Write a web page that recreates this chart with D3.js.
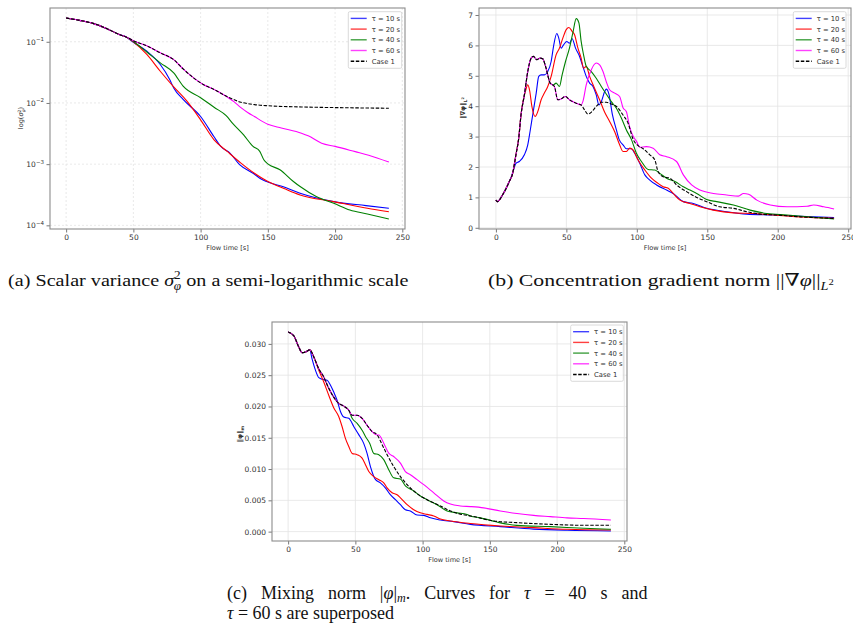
<!DOCTYPE html>
<html>
<head>
<meta charset="utf-8">
<script src="https://cdn.jsdelivr.net/npm/d3@7"></script>
<style>
body { margin: 0; background: #fff; }
svg { display: block; }
.tick text { font-family: "DejaVu Sans", sans-serif; fill: #333; }
.lab { font-family: "DejaVu Sans", sans-serif; fill: #333; }
</style>
</head>
<body>
<svg id="fig" width="853" height="626"></svg>
<script>
// shared labels / ticks
var xTicks = [0, 50, 100, 150, 200, 250];
var legendLabels = ["τ = 10 s", "τ = 20 s", "τ = 40 s", "τ = 60 s", "Case 1"];
var colors = ["#0000ff", "#ff0000", "#008000", "#ff00ff", "#000000"];
var serif = "'Liberation Serif', 'DejaVu Serif', serif";

// take the shared early part of a curve (the curves coincide at the start)
function upTo(s, t) { return s.filter(function(d) { return d[0] <= t; }); }

// (a) scalar variance, [time, value]
var aCase1 = [[0,0.244],[10,0.224],[20,0.200],[30,0.165],[40,0.130],[45,0.119],[50,0.104],[60,0.086],[70,0.066],[80,0.051],[87,0.036],[95,0.0255],[102,0.020],[110,0.0166],[120,0.0126],[130,0.0103],[140,0.0094],[150,0.0090],[175,0.0086],[200,0.0084],[240,0.0082]];
var aTau10 = upTo(aCase1, 45).concat([[50,0.098],[60,0.070],[70,0.0425],[77,0.0242],[80,0.0176],[87,0.0114],[100,0.0060],[110,0.0028],[115,0.00195],[122,0.0015],[129,0.00098],[139,0.00071],[144,0.00059],[149,0.00052],[161,0.00043],[174,0.000335],[199,0.000244],[223,0.00021],[240,0.00019]]);
var aTau20 = upTo(aCase1, 45).concat([[50,0.100],[60,0.062],[70,0.033],[80,0.0183],[90,0.0106],[100,0.0053],[110,0.0025],[120,0.0016],[130,0.00104],[140,0.00071],[150,0.00052],[162,0.0004],[174,0.000314],[199,0.000244],[224,0.00019],[240,0.000167]]);
var aTau40 = upTo(aCase1, 45).concat([[50,0.101],[60,0.068],[70,0.0453],[80,0.031],[87,0.0188],[100,0.0122],[110,0.0085],[119,0.0062],[124,0.0046],[132,0.0030],[139,0.00195],[144,0.00162],[147,0.00118],[150,0.00101],[159,0.00081],[169,0.00052],[174,0.00043],[186,0.000295],[199,0.000229],[211,0.000178],[224,0.000153],[240,0.000127]]);
var aTau60 = upTo(aCase1, 110).concat([[115,0.0146],[120,0.0124],[125,0.0104],[130,0.0084],[135,0.0070],[140,0.0060],[150,0.0045],[160,0.0039],[175,0.0032],[180,0.0029],[190,0.0022],[200,0.00195],[215,0.0016],[225,0.0014],[240,0.00108]]);

// (b) concentration gradient norm
var bCase1 = [[0,0.91],[1,0.86],[4.7,1.08],[9.5,1.52],[11.9,1.79],[14.2,2.4],[16.2,2.95],[17.8,3.71],[20.2,4.37],[22.6,5.14],[25,5.58],[26.6,5.64],[29,5.53],[31.3,5.58],[33.2,5.56],[35.6,5.25],[38.5,4.76],[41.5,4.65],[43.9,4.21],[46.3,4.24],[49.4,4.32],[52.2,4.21],[57,4.1],[60.5,4.04],[62.9,3.88],[65.3,3.74],[67.7,3.8],[71.2,3.99],[74.8,4.13],[78.3,4.13],[81.9,4.07],[85.5,3.99],[90.2,3.71],[93.8,3.44],[97.3,2.92],[100.9,2.7],[104.5,2.6],[109.2,2.4],[112.8,2.23],[115.1,1.85],[118.7,1.68],[123.5,1.63],[128.2,1.41],[135.3,1.19],[142.5,1.0],[149.6,0.86],[159,0.69],[168.6,0.64],[178,0.53],[187.6,0.45],[199.4,0.42],[216,0.36],[240,0.31]];
var bTau10 = upTo(bCase1, 9.5).concat([[10.7,1.65],[12.5,1.9],[14.2,2.12],[16.6,2.18],[20.2,2.40],[22.6,2.73],[24.2,3.16],[26.1,3.71],[28.6,4.43],[30.4,4.98],[32.1,5.03],[34.4,5.03],[36.8,5.14],[39.2,5.47],[40.9,5.97],[43.2,6.39],[44.6,6.24],[46.3,5.91],[48,6.02],[50.3,6.13],[52.2,6.07],[54.1,6.22],[56.5,5.91],[58.9,5.69],[61.7,5.31],[64.1,4.98],[66.5,4.76],[68.9,4.65],[71.2,4.37],[73.1,4.04],[74.8,4.15],[77.2,4.48],[78.3,4.56],[80.2,4.40],[82.6,3.74],[85.5,3.22],[87.5,2.9],[90.2,2.73],[92.6,2.6],[96.2,2.6],[98.5,2.45],[102.1,2.12],[105.7,1.74],[109.2,1.57],[114,1.41],[121.1,1.24],[125.8,1.13],[133,0.86],[140.1,0.80],[149.6,0.64],[163.8,0.53],[178,0.45],[197,0.42],[216,0.38],[240,0.34]]);
var bTau20 = upTo(bCase1, 17.8).concat([[19,4.1],[21,4.5],[22.6,4.70],[24,4.5],[25.5,4.0],[27.8,3.66],[29.7,3.82],[32.1,4.21],[34.4,4.43],[36.8,4.65],[39.2,4.98],[42.7,5.69],[45.1,5.91],[47.5,6.24],[49.9,6.52],[51.8,6.59],[54.1,6.46],[55.8,6.35],[58.2,5.91],[60.5,5.58],[62.2,5.25],[64.1,5.31],[66.5,4.98],[70,4.59],[73.6,4.21],[77.2,3.8],[80.7,3.5],[84.3,3.16],[87.8,2.73],[90.2,2.51],[92.6,2.51],[95,2.62],[97.3,2.56],[100.9,2.23],[105.7,1.90],[110.4,1.63],[115.1,1.46],[118.7,1.35],[122.3,1.30],[125.8,1.13],[130.6,0.91],[137.7,0.80],[144.8,0.69],[154.3,0.58],[168.6,0.49],[182.8,0.47],[197,0.42],[216,0.36],[240,0.31]]);
var bTau40 = upTo(bCase1, 38.5).concat([[40.8,4.70],[42.7,4.76],[45.1,4.65],[47,5.03],[49.4,5.47],[52.2,5.91],[54.6,6.41],[57,6.88],[58.9,6.74],[60.5,6.13],[62.2,5.69],[64.1,5.31],[67.7,5.14],[71.2,4.92],[74.8,4.65],[78.3,4.40],[81.9,4.15],[85.5,3.93],[89.1,3.60],[92.6,3.22],[96.2,2.90],[99.7,2.45],[103.3,2.18],[108,1.92],[112.8,1.90],[116.3,1.79],[121.1,1.63],[127,1.52],[133,1.35],[137.7,1.24],[142.5,1.13],[149.6,0.93],[156.7,0.86],[168.6,0.75],[180.4,0.58],[192.3,0.47],[206.6,0.42],[240,0.29]]);
var bTau60 = upTo(bCase1, 60.5).concat([[61.7,4.15],[64.1,4.7],[67.7,5.2],[71.2,5.42],[73.6,5.36],[76,5.14],[78.3,4.81],[80.7,4.54],[84.3,4.43],[87.8,4.32],[90.2,3.95],[92.6,3.82],[95,3.3],[97.5,3.0],[99.7,2.85],[102.1,2.65],[106.8,2.67],[111.6,2.62],[116.3,2.4],[121.1,2.34],[128.2,2.18],[133,1.74],[138.9,1.41],[144.8,1.24],[154.3,1.13],[163.8,1.08],[172.1,1.04],[175.7,1.13],[179.3,1.10],[185.2,0.91],[194.7,0.75],[206.6,0.69],[220.8,0.71],[225.5,0.75],[232.7,0.69],[240,0.62]]);

// (c) mixing norm
var cCase1 = [[0,0.0319],[4.2,0.0313],[7.9,0.0295],[10.4,0.0286],[12.9,0.0287],[16.1,0.02905],[19.1,0.0279],[22.8,0.0260],[26.5,0.0247],[30.2,0.0229],[33.9,0.0215],[37.6,0.0205],[41.4,0.02005],[45.1,0.0194],[47.6,0.0186],[51.3,0.0186],[55,0.0181],[58.7,0.0170],[62.4,0.0160],[66.2,0.01545],[69.9,0.0139],[73.6,0.0123],[78.5,0.0104],[83.5,0.0088],[88.5,0.0075],[93.4,0.0065],[98.3,0.0057],[103.3,0.0051],[108.3,0.0046],[113.2,0.0041],[120.7,0.0033],[128.1,0.0028],[135.8,0.0025],[152.9,0.0017],[170,0.00143],[195,0.00116],[220,0.00101],[240,0.00101]];
var cTau10 = upTo(cCase1, 16.1).concat([[17.8,0.0276],[20.3,0.0258],[22.8,0.0246],[26,0.0243],[29,0.0242],[31.5,0.0234],[33.9,0.0223],[36.4,0.0210],[38.9,0.0192],[41.4,0.0183],[45.1,0.0181],[48.8,0.0168],[52.5,0.0155],[56.2,0.0141],[58.7,0.0125],[61.2,0.0104],[65,0.0083],[68.6,0.0078],[72.3,0.0070],[76,0.0059],[79.8,0.0051],[83.5,0.0043],[87.2,0.0035],[90.9,0.0033],[95.9,0.00265],[100.9,0.0026],[105.8,0.0022],[113.2,0.00185],[123.1,0.0016],[135.5,0.00116],[157.8,0.0008],[182.6,0.0004],[207.4,0.00021],[240,0.0001]]);
var cTau20 = upTo(cCase1, 16.1).concat([[19.1,0.0279],[22.8,0.0258],[26.5,0.0239],[30.2,0.0218],[33.9,0.0198],[37.6,0.0184],[40.1,0.0168],[42.6,0.0149],[45.1,0.0136],[47.6,0.0125],[51.3,0.0123],[55,0.01175],[57.5,0.0107],[60,0.0096],[63.7,0.0088],[67.4,0.0083],[71.1,0.0078],[73.6,0.0070],[77.3,0.0062],[81,0.0059],[83.5,0.0054],[88.5,0.0043],[93.4,0.0035],[98.3,0.0030],[103.3,0.00275],[108.3,0.0025],[113.2,0.0020],[120.7,0.0017],[135.5,0.0013],[157.8,0.0009],[182.6,0.00063],[207.4,0.00037],[240,0.00026]]);
var cTau40 = upTo(cCase1, 45.1).concat([[47.6,0.0181],[51.3,0.0173],[55,0.0162],[57.5,0.0152],[60.7,0.0141],[63.7,0.0125],[67.4,0.0123],[71.1,0.0115],[74.8,0.0099],[78.5,0.0086],[83.5,0.0084],[87.2,0.0073],[93.4,0.0065],[98.3,0.0057],[103.3,0.0051],[110.7,0.0043],[118.2,0.0033],[125.6,0.0030],[133,0.00275],[135.5,0.0025],[143,0.0022],[157.8,0.0014],[170,0.0010],[195,0.0008],[220,0.00053],[240,0.00037]]);
var cTau60 = upTo(cCase1, 66.2).concat([[67.4,0.01545],[71.1,0.01413],[74.8,0.01254],[78.5,0.0120],[83.5,0.01095],[87.2,0.0096],[90.9,0.0091],[95.9,0.0083],[100.9,0.0075],[108.3,0.0062],[115.7,0.0049],[120.7,0.0044],[128.1,0.0041],[135.5,0.0040],[145.4,0.0038],[157.8,0.0033],[170.2,0.0029],[182.6,0.0026],[195,0.0024],[207.4,0.0022],[219.8,0.0021],[240,0.00185]]);

var aYTicks = [1e-4, 1e-3, 1e-2, 1e-1];
var bYTicks = [0, 1, 2, 3, 4, 5, 6, 7];
var cYTicks = [0, 0.005, 0.01, 0.015, 0.02, 0.025, 0.03];

var svg = d3.select("#fig");

var panels = [
  { id: "a", box: {l: 50, r: 405, t: 8, b: 229}, log: true,
    yDomain: [Math.pow(10, -4.06), Math.pow(10, -0.448)], yTicks: aYTicks, gridDash: "2,2",
    series: [aTau10, aTau20, aTau40, aTau60, aCase1], legend: {x: 348.3, y: 11.7, w: 53.4, h: 56.6},
    ylab: {x: 23, y: 118} },
  { id: "b", box: {l: 479, r: 851, t: 8, b: 229}, log: false,
    yDomain: [-0.04, 7.23], yTicks: bYTicks, gridDash: null, fmt: d3.format("d"),
    series: [bTau10, bTau20, bTau40, bTau60, bCase1], legend: {x: 793.3, y: 11.7, w: 52.7, h: 56.6},
    ylab: {x: 465, y: 108} },
  { id: "c", box: {l: 272, r: 627, t: 322, b: 541}, log: false,
    yDomain: [-0.0015, 0.0335], yTicks: cYTicks, gridDash: null, fmt: d3.format(".3f"),
    series: [cTau10, cTau20, cTau40, cTau60, cCase1], legend: {x: 570.7, y: 325, w: 52.6, h: 56.3},
    ylab: {x: 242, y: 434} }
];

panels.forEach(function(p) {
  var b = p.box;
  var x = d3.scaleLinear().domain([-12, 252]).range([b.l, b.r]);
  var y = (p.log ? d3.scaleLog() : d3.scaleLinear()).domain(p.yDomain).range([b.b, b.t]);
  var g = svg.append("g");

  // grid
  g.append("g").selectAll("line").data(xTicks).enter().append("line")
    .attr("x1", function(d) { return x(d); }).attr("x2", function(d) { return x(d); })
    .attr("y1", b.t).attr("y2", b.b)
    .attr("stroke", "#e3e3e3").attr("stroke-width", 0.8).attr("stroke-dasharray", p.gridDash);
  g.append("g").selectAll("line").data(p.yTicks).enter().append("line")
    .attr("y1", function(d) { return y(d); }).attr("y2", function(d) { return y(d); })
    .attr("x1", b.l).attr("x2", b.r)
    .attr("stroke", "#e3e3e3").attr("stroke-width", 0.8).attr("stroke-dasharray", p.gridDash);

  // curves
  g.append("clipPath").attr("id", "clip" + p.id).append("rect")
    .attr("x", b.l).attr("y", b.t).attr("width", b.r - b.l).attr("height", b.b - b.t);
  var line = d3.line()
    .x(function(d) { return x(d[0]); })
    .y(function(d) { return y(d[1]); })
    .curve(d3.curveMonotoneX);
  g.append("g").attr("clip-path", "url(#clip" + p.id + ")")
    .selectAll("path").data(p.series).enter().append("path")
    .attr("d", line)
    .attr("fill", "none")
    .attr("stroke", function(d, i) { return colors[i]; })
    .attr("stroke-width", 1.1)
    .attr("stroke-dasharray", function(d, i) { return i == 4 ? "3.5,1.6" : null; });

  // axes
  var xAxis = g.append("g").attr("transform", "translate(0," + b.b + ")")
    .call(d3.axisBottom(x).tickValues(xTicks).tickSize(3.5).tickPadding(2.5));
  var yAxis = g.append("g").attr("transform", "translate(" + b.l + ",0)")
    .call(d3.axisLeft(y).tickValues(p.yTicks).tickSize(3.5).tickPadding(2.5)
      .tickFormat(p.log ? function() { return ""; } : p.fmt));
  [xAxis, yAxis].forEach(function(ax) {
    ax.select(".domain").remove();
    ax.selectAll(".tick line").attr("stroke", "#555").attr("stroke-width", 0.8);
    ax.selectAll(".tick text").attr("font-size", 7.5);
  });
  if (p.log) {
    yAxis.selectAll(".tick text").each(function(d) {
      var t = d3.select(this);
      t.append("tspan").text("10");
      t.append("tspan").attr("font-size", 5.5).attr("dy", -3.5).text("−" + Math.round(-Math.log10(d)));
    });
  }

  // frame
  g.append("rect").attr("x", b.l).attr("y", b.t).attr("width", b.r - b.l).attr("height", b.b - b.t)
    .attr("fill", "none").attr("stroke", "#8c8c8c").attr("stroke-width", 1.1);

  // x label
  g.append("text").attr("class", "lab").attr("x", (b.l + b.r) / 2).attr("y", b.b + 20.5)
    .attr("text-anchor", "middle").attr("font-size", 6.6).text("Flow time [s]");

  // y label
  var yl = g.append("text").attr("class", "lab").attr("text-anchor", "middle").attr("font-size", 6.6)
    .attr("transform", "translate(" + p.ylab.x + "," + p.ylab.y + ") rotate(-90)");
  if (p.id == "a") {
    yl.append("tspan").text("log(");
    yl.append("tspan").attr("font-style", "italic").text("σ");
    yl.append("tspan").attr("font-size", 4.5).attr("dy", -2.5).text("2");
    yl.append("tspan").attr("font-size", 4.5).attr("font-style", "italic").attr("dx", -2.8).attr("dy", 4.5).text("φ");
    yl.append("tspan").attr("dy", -2).text(")");
  } else if (p.id == "b") {
    yl.attr("font-weight", "bold");
    yl.append("tspan").text("‖∇φ‖");
    yl.append("tspan").attr("font-size", 4.5).attr("dy", 1.5).text("L");
    yl.append("tspan").attr("font-size", 3.5).attr("dy", -2.5).text("2");
  } else {
    yl.attr("font-weight", "bold");
    yl.append("tspan").text("‖φ‖");
    yl.append("tspan").attr("font-size", 4.5).attr("dy", 1.5).text("m");
  }

  // legend
  var L = p.legend;
  var lg = g.append("g");
  lg.append("rect").attr("x", L.x).attr("y", L.y).attr("width", L.w).attr("height", L.h)
    .attr("rx", 1.5).attr("fill", "#fff").attr("fill-opacity", 0.85)
    .attr("stroke", "#d0d0d0").attr("stroke-width", 0.8);
  legendLabels.forEach(function(lab, i) {
    var yy = L.y + 6.7 + i * 10.7;
    lg.append("line").attr("x1", L.x + 2.4).attr("x2", L.x + 18.4).attr("y1", yy).attr("y2", yy)
      .attr("stroke", colors[i]).attr("stroke-opacity", i == 4 ? 1 : 0.75).attr("stroke-width", 1.4)
      .attr("stroke-dasharray", i == 4 ? "3.5,1.6" : null);
    lg.append("text").attr("class", "lab").attr("x", L.x + 23.4).attr("y", yy + 2.4)
      .attr("font-size", 6.8).text(lab);
  });
});

// captions
function fitTo(sel, x0, w) {
  var bw = sel.node().getBBox().width;
  sel.attr("transform", "translate(" + x0 + ",0) scale(" + (w / bw) + ",1) translate(" + (-x0) + ",0)");
}
function caption(xx, yy, size) {
  return svg.append("text").attr("x", xx).attr("y", yy)
    .attr("font-family", serif).attr("font-size", size).attr("fill", "#111");
}

var capA = caption(8, 286, 17.5);
capA.append("tspan").text("(a) Scalar variance ");
capA.append("tspan").attr("font-style", "italic").text("σ");
capA.append("tspan").attr("font-size", 11.5).attr("dy", -7).text("2");
capA.append("tspan").attr("font-size", 11.5).attr("font-style", "italic").attr("dx", -6).attr("dy", 11).text("φ");
capA.append("tspan").attr("dy", -4).text(" on a semi-logarithmic scale");
fitTo(capA, 8, 401);

var capB = caption(488, 286, 17.5);
capB.append("tspan").text("(b) Concentration gradient norm ||∇");
capB.append("tspan").attr("font-style", "italic").text("φ");
capB.append("tspan").text("||");
capB.append("tspan").attr("font-size", 11.5).attr("font-style", "italic").attr("dy", 4).text("L");
capB.append("tspan").attr("font-size", 8.5).attr("dy", -5).text("2");
fitTo(capB, 488, 346);

var capC1 = caption(227, 599, 18);
capC1.append("tspan").text("(c) Mixing norm |");
capC1.append("tspan").attr("font-style", "italic").text("φ");
capC1.append("tspan").text("|");
capC1.append("tspan").attr("font-size", 12).attr("font-style", "italic").attr("dy", 3).text("m");
capC1.append("tspan").attr("dy", -3).text(".  Curves for ");
capC1.append("tspan").attr("font-style", "italic").text("τ");
capC1.append("tspan").text(" = 40 s and");
var w1 = capC1.node().getBBox().width;
capC1.attr("word-spacing", ((411 - w1) / 9) + "px");

var capC2 = caption(227, 618.5, 18);
capC2.append("tspan").attr("font-style", "italic").text("τ");
capC2.append("tspan").text(" = 60 s are superposed");
</script>
</body>
</html>
